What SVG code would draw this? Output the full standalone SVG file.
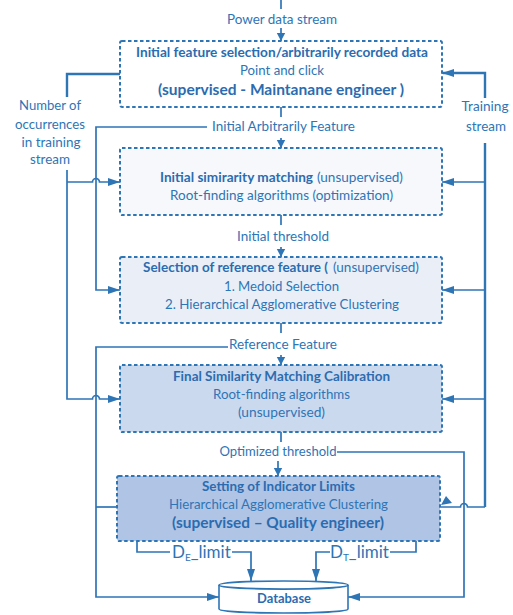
<svg xmlns="http://www.w3.org/2000/svg" width="513" height="615" viewBox="0 0 513 615">
<style>
.t{font-family:Lato,"Liberation Sans",sans-serif;fill:#2e75b6;font-size:13.5px}
.b{font-weight:bold;fill:#2b6cb0}
.box{stroke:#2e75b6;stroke-width:2;stroke-dasharray:3.5 2.5}
.ln{fill:none;stroke:#2e75b6;stroke-width:1.7}
.tk{stroke-width:2.4}
.ah{fill:#2e75b6}
</style>
<defs>
<marker id="as" markerUnits="userSpaceOnUse" markerWidth="8" markerHeight="10" viewBox="0 0 8 10" refX="8" refY="5" orient="auto">
<path d="M0,0.8 L8,5 L0,9.2 Z" fill="#2e75b6"/>
</marker>
<marker id="al" markerUnits="userSpaceOnUse" markerWidth="12" markerHeight="10" viewBox="0 0 12 10" refX="12" refY="5" orient="auto">
<path d="M0,1 L12,5 L0,9 Z" fill="#2e75b6"/>
</marker>
</defs>
<rect width="513" height="615" fill="#ffffff"/>

<g id="connectors">
<path class="ln" d="M281,0 V9"/>
<path class="ln" d="M281,28 V41" marker-end="url(#as)"/>
<path class="ln" d="M281,107 V117"/>
<path class="ln" d="M281,138 V148" marker-end="url(#as)"/>
<path class="ln" d="M281,215 V225"/>
<path class="ln" d="M281,247 V257" marker-end="url(#as)"/>
<path class="ln" d="M281,323 V333"/>
<path class="ln" d="M281,355 V365" marker-end="url(#as)"/>
<path class="ln" d="M281,432 V442"/>
<path class="ln" d="M278,461 V476" marker-end="url(#as)"/>

<path class="ln tk" d="M120,74 H67 V97"/>
<path class="ln" d="M67,170 V399 H92.5 A3.5,3.5 0 0 1 99.5,399 H120" marker-end="url(#al)"/>
<path class="ln" d="M67,182 H92.5 A3.5,3.5 0 0 1 99.5,182 H120" marker-end="url(#al)"/>
<path class="ln" d="M207,127 H96 V290 H120" marker-end="url(#al)"/>
<path class="ln" d="M228,347 H96 V597 H219" marker-end="url(#al)"/>
<path class="ln" d="M96,507 H118"/>
<polygon class="ah" points="120,507 131,505 127,497"/>

<path class="ln tk" d="M485,98 V73 H443"/>
<path class="ln" d="M450,73 H442" marker-end="url(#al)"/>
<path class="ln tk" d="M485,143 V507"/>
<path class="ln" d="M485,507 H467.5 A3.5,3.5 0 0 0 460.5,507 H441"/>
<polygon class="ah" points="441,505 452,503 446,496"/>
<path class="ln" d="M485,182 H442" marker-end="url(#al)"/>
<path class="ln" d="M485,290 H442" marker-end="url(#al)"/>
<path class="ln" d="M485,399 H442" marker-end="url(#al)"/>

<path class="ln" d="M337,452 H464 V597 H348" marker-end="url(#al)"/>

<path class="ln" d="M137,541 V552 H170"/>
<path class="ln" d="M232,552 H251 V581" marker-end="url(#al)"/>
<path class="ln" d="M416,541 V552 H390"/>
<path class="ln" d="M330,552 H316 V581" marker-end="url(#al)"/>
</g>

<g id="labels">
<text class="t" x="282" y="24" text-anchor="middle" textLength="110" lengthAdjust="spacingAndGlyphs">Power data stream</text>
<text class="t" x="283.5" y="131" text-anchor="middle" textLength="143" lengthAdjust="spacingAndGlyphs">Initial Arbitrarily Feature</text>
<text class="t" x="283" y="241" text-anchor="middle" textLength="92" lengthAdjust="spacingAndGlyphs">Initial threshold</text>
<text class="t" x="283" y="349" text-anchor="middle" textLength="108" lengthAdjust="spacingAndGlyphs">Reference Feature</text>
<text class="t" x="278" y="456" text-anchor="middle" textLength="117" lengthAdjust="spacingAndGlyphs">Optimized threshold</text>
<text class="t" x="50" y="110" text-anchor="middle" textLength="62" lengthAdjust="spacingAndGlyphs">Number of</text>
<text class="t" x="50" y="129" text-anchor="middle" textLength="70" lengthAdjust="spacingAndGlyphs">occurrences</text>
<text class="t" x="51" y="147" text-anchor="middle" textLength="59" lengthAdjust="spacingAndGlyphs">in training</text>
<text class="t" x="50" y="164" text-anchor="middle" textLength="40" lengthAdjust="spacingAndGlyphs">stream</text>
<text class="t" x="485" y="111" text-anchor="middle" textLength="47" lengthAdjust="spacingAndGlyphs">Training</text>
<text class="t" x="486" y="131" text-anchor="middle" textLength="40" lengthAdjust="spacingAndGlyphs">stream</text>
<text class="t" x="172" y="558" style="font-size:17px">D<tspan style="font-size:10px" dy="3">E</tspan><tspan dy="-3">_limit</tspan></text>
<text class="t" x="330" y="558" style="font-size:17px">D<tspan style="font-size:10px" dy="3">T</tspan><tspan dy="-3">_limit</tspan></text>
</g>

<g id="box1">
<rect class="box" x="120" y="41" width="322" height="66" rx="2" fill="#ffffff"/>
<text class="t b" x="282" y="57" text-anchor="middle" textLength="292" lengthAdjust="spacingAndGlyphs">Initial feature selection/arbitrarily recorded data</text>
<text class="t" x="282" y="75" text-anchor="middle" textLength="84" lengthAdjust="spacingAndGlyphs">Point and click</text>
<text class="t b" x="281" y="95" text-anchor="middle" style="font-size:15px" textLength="246" lengthAdjust="spacingAndGlyphs">(supervised - Maintanane engineer )</text>
</g>

<g id="box2">
<rect class="box" x="120" y="148" width="322" height="67" rx="2" fill="#f6f8fc"/>
<text class="t b" x="160" y="182" textLength="153" lengthAdjust="spacingAndGlyphs">Initial simirarity matching</text>
<text class="t" x="317" y="182" textLength="86" lengthAdjust="spacingAndGlyphs">(unsupervised)</text>
<text class="t" x="281.5" y="200" text-anchor="middle" textLength="223" lengthAdjust="spacingAndGlyphs">Root-finding algorithms (optimization)</text>
</g>

<g id="box3">
<rect class="box" x="120" y="257" width="322" height="66" rx="2" fill="#eaeff7"/>
<text class="t b" x="143" y="272" textLength="185" lengthAdjust="spacingAndGlyphs">Selection of reference feature (</text>
<text class="t" x="333" y="272" textLength="86" lengthAdjust="spacingAndGlyphs">(unsupervised)</text>
<text class="t" x="281.5" y="291" text-anchor="middle" textLength="115" lengthAdjust="spacingAndGlyphs">1. Medoid Selection</text>
<text class="t" x="282" y="309" text-anchor="middle" textLength="234" lengthAdjust="spacingAndGlyphs">2. Hierarchical Agglomerative Clustering</text>
</g>

<g id="box4">
<rect class="box" x="120" y="365" width="322" height="67" rx="2" fill="#cbd9ef"/>
<text class="t b" x="281.5" y="381" text-anchor="middle" textLength="217" lengthAdjust="spacingAndGlyphs">Final Similarity Matching Calibration</text>
<text class="t" x="281.5" y="399" text-anchor="middle" textLength="137" lengthAdjust="spacingAndGlyphs">Root-finding algorithms</text>
<text class="t" x="281.5" y="417" text-anchor="middle" textLength="87" lengthAdjust="spacingAndGlyphs">(unsupervised)</text>
</g>

<g id="box5">
<rect class="box" x="117" y="476" width="323" height="65" rx="2" fill="#b0c4e5"/>
<text class="t b" x="278.5" y="491" text-anchor="middle" textLength="153" lengthAdjust="spacingAndGlyphs">Setting of Indicator Limits</text>
<text class="t" x="278.5" y="509" text-anchor="middle" textLength="219" lengthAdjust="spacingAndGlyphs">Hierarchical Agglomerative Clustering</text>
<text class="t b" x="278" y="528" text-anchor="middle" style="font-size:15px" textLength="212" lengthAdjust="spacingAndGlyphs">(supervised – Quality engineer)</text>
</g>

<g id="database">
<path d="M219,585 V609 A64,4 0 0 0 348,609 V585 A64,4 0 0 0 219,585 Z" fill="#ffffff" stroke="#2e75b6" stroke-width="1.6"/>
<path class="ln" d="M219,585 A64,4 0 0 0 348,585"/>
<text class="t b" x="284" y="603" text-anchor="middle" textLength="54" lengthAdjust="spacingAndGlyphs">Database</text>
</g>
</svg>
